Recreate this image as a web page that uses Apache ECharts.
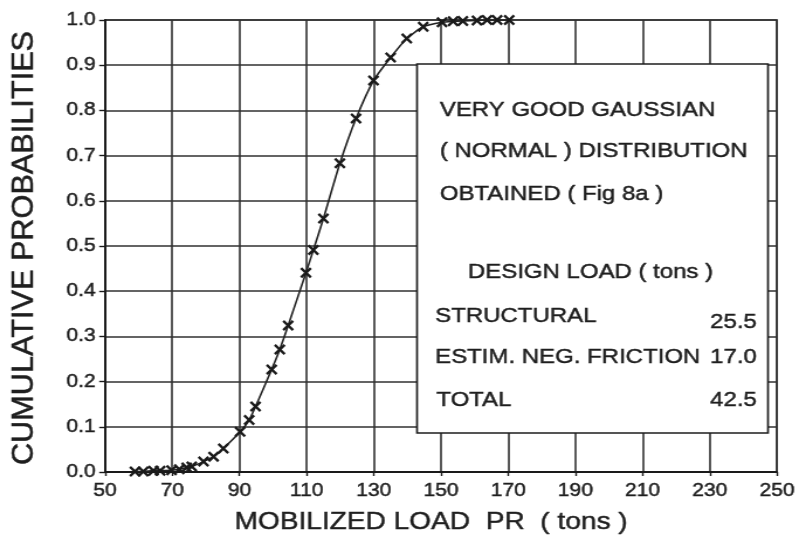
<!DOCTYPE html>
<html>
<head>
<meta charset="utf-8">
<title>Cumulative probabilities of mobilized load</title>
<script src="https://cdn.jsdelivr.net/npm/echarts@6/dist/echarts.min.js"></script>
<style>
  html, body { margin: 0; padding: 0; background: #fff; overflow: hidden; }
  /* the figure is drawn on a narrower canvas and widened, giving the broad lettering of the plot */
  #chart { width: 683px; height: 545px; transform: scaleX(1.1698); transform-origin: 0 0; }
</style>
</head>
<body>
<div id="chart"></div>
<script>
// Mobilized load PR (tons) of each test and its cumulative probability
const loads = [58.9, 61.4, 64.4, 66.4, 69.8, 72.1, 74.3, 75.8, 79.3, 82.3, 85.2,
               90.2, 92.9, 94.8, 99.6, 102.0, 104.5, 109.8, 112.0, 115.0, 119.9,
               124.7, 129.9, 135.0, 139.8, 144.7, 150.3, 153.6, 156.5, 160.7,
               163.7, 166.7, 170.3];
const probs = [0.001, 0.001, 0.003, 0.003, 0.004, 0.006, 0.010, 0.012, 0.023, 0.034, 0.052,
               0.089, 0.115, 0.145, 0.227, 0.271, 0.324, 0.441, 0.491, 0.561, 0.683,
               0.782, 0.866, 0.917, 0.959, 0.985, 0.995, 0.997, 0.998, 0.999,
               1.000, 1.000, 1.000];

// Axis ranges
const xRange = [50, 250, 20];
const yRange = [0, 1, 0.1];

// Titles and annotation text
const xTitle = 'MOBILIZED LOAD  PR  ( tons )';
const yTitle = 'CUMULATIVE PROBABILITIES';
const noteLines = ['VERY GOOD GAUSSIAN', '( NORMAL ) DISTRIBUTION', 'OBTAINED ( Fig 8a )'];
const designHeading = 'DESIGN LOAD ( tons )';
const designNames = ['STRUCTURAL', 'ESTIM. NEG. FRICTION', 'TOTAL'];
const designValues = [25.5, 17.0, 42.5];

const FONT = '"Liberation Sans", Arial, Helvetica, sans-serif';
const INK = '#1e1e1e';
const GRIDC = '#303030';

const chart = echarts.init(document.getElementById('chart'), null, { renderer: 'canvas' });

const crossSymbol = 'path://M1.6,0L5,3.4L8.4,0L10,1.6L6.6,5L10,8.4L8.4,10L5,6.6L1.6,10L0,8.4L3.4,5L0,1.6Z';

function txt(text, x, y, size, align, extra) {
  return Object.assign({
    type: 'text', x: x, y: y, z: 20,
    style: {
      text: text, fontSize: size, fontFamily: FONT, fill: INK,
      stroke: INK, lineWidth: 0.45,
      align: align, textAlign: align,
      verticalAlign: 'middle', textVerticalAlign: 'middle'
    }
  }, extra || {});
}

const graphics = [
  {
    type: 'rect', z: 15,
    shape: { x: 356.5, y: 64, width: 300, height: 369 },
    style: { fill: '#fff', stroke: INK, lineWidth: 1.7 }
  },
  txt(noteLines[0], 376, 110, 20.5, 'left'),
  txt(noteLines[1], 376, 151.5, 20.5, 'left'),
  txt(noteLines[2], 376, 194, 20.5, 'left'),
  txt(designHeading, 400, 272, 20.5, 'left'),
  txt(designNames[0], 372, 316.5, 20.5, 'left'),
  txt(designValues[0].toFixed(1), 647, 322.5, 20.5, 'right'),
  txt(designNames[1], 372, 357.5, 20.5, 'left'),
  txt(designValues[1].toFixed(1), 647, 357.5, 20.5, 'right'),
  txt(designNames[2], 373, 400.5, 20.5, 'left'),
  txt(designValues[2].toFixed(1), 647, 400.5, 20.5, 'right'),
  txt(xTitle, 368.5, 522, 24, 'center'),
  txt(yTitle, 20.5, 248, 26, 'center', { rotation: Math.PI / 2, scaleX: 1.18 })
];

const tickLabel = {
  fontSize: 18, fontFamily: FONT, color: INK,
  textBorderColor: INK, textBorderWidth: 0.45
};

chart.setOption({
  backgroundColor: '#fff',
  animation: false,
  grid: { left: 89.8, right: 18.8, top: 20, bottom: 73, show: true, borderColor: GRIDC, borderWidth: 1.6 },
  xAxis: {
    type: 'value',
    min: xRange[0], max: xRange[1], interval: xRange[2],
    axisLine: { show: true, onZero: false, lineStyle: { color: '#1a1a1a', width: 1.8 } },
    axisTick: { show: true, inside: false, length: 4, lineStyle: { color: '#1a1a1a', width: 1.4 } },
    axisLabel: Object.assign({ margin: 10 }, tickLabel),
    splitLine: { show: true, lineStyle: { color: GRIDC, width: 1.6 } }
  },
  yAxis: {
    type: 'value',
    min: yRange[0], max: yRange[1], interval: yRange[2],
    axisLine: { show: true, lineStyle: { color: '#1a1a1a', width: 1.8 } },
    axisTick: { show: true, inside: false, length: 5, lineStyle: { color: '#1a1a1a', width: 1.4 } },
    axisLabel: Object.assign({
      margin: 8,
      formatter: function (v) { return v.toFixed(1); }
    }, tickLabel),
    splitLine: { show: true, lineStyle: { color: GRIDC, width: 1.6 } }
  },
  series: [{
    type: 'line',
    data: loads.map(function (v, i) { return [v, probs[i]]; }),
    smooth: 0.2,
    symbol: crossSymbol,
    symbolSize: [10, 11],
    showSymbol: true,
    lineStyle: { color: '#222', width: 1.6 },
    itemStyle: { color: '#1a1a1a' },
    z: 5
  }],
  graphic: graphics
});
</script>
</body>
</html>
